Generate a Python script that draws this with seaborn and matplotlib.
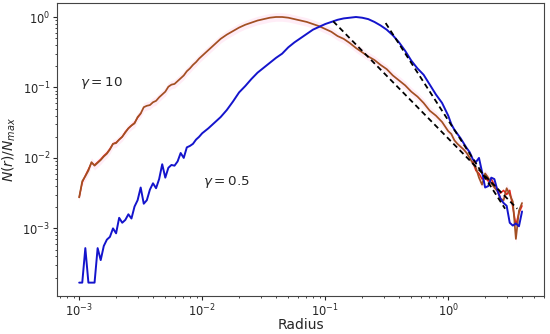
import numpy as np
import pandas as pd
import seaborn as sns
import matplotlib
matplotlib.use("Agg")
import matplotlib.pyplot as plt

# log10(radius) grid
log_r_low = [-3.000, -2.975, -2.950, -2.925, -2.900, -2.875, -2.850, -2.825, -2.800, -2.775,
             -2.750, -2.725, -2.700, -2.675, -2.650, -2.625, -2.600, -2.575, -2.550, -2.525,
             -2.500, -2.475, -2.450, -2.425, -2.400, -2.375, -2.350, -2.325, -2.300, -2.275,
             -2.250, -2.225, -2.200, -2.175, -2.150, -2.125, -2.100, -2.075, -2.050, -2.025,
             -2.000]
log_r_mid = [-1.95, -1.90, -1.85, -1.80, -1.75, -1.70, -1.65, -1.60, -1.55, -1.50,
             -1.45, -1.40, -1.35, -1.30, -1.25, -1.20, -1.15, -1.10, -1.05, -1.00,
             -0.95, -0.90, -0.85, -0.80, -0.75, -0.70, -0.65, -0.60, -0.55, -0.50,
             -0.45, -0.40, -0.35, -0.30, -0.25, -0.20, -0.15, -0.10, -0.05, 0.00]
log_r_tail = [0.025, 0.050, 0.075, 0.100, 0.125, 0.150, 0.175, 0.200, 0.225, 0.250,
              0.275, 0.300, 0.325, 0.350, 0.375, 0.400, 0.425, 0.450, 0.475, 0.500,
              0.525, 0.550, 0.575, 0.600]

# gamma = 0.5 (blue), log10 N/Nmax
blue_low = [-3.77, -3.77, -3.28, -3.77, -3.77, -3.77, -3.28, -3.45, -3.25, -3.16,
            -3.12, -3.00, -3.07, -2.85, -2.92, -2.88, -2.80, -2.86, -2.69, -2.60,
            -2.42, -2.65, -2.60, -2.45, -2.36, -2.43, -2.30, -2.09, -2.28, -2.14,
            -2.10, -2.11, -2.05, -1.93, -2.00, -1.85, -1.83, -1.80, -1.74, -1.70,
            -1.65]
blue_mid = [-1.58, -1.50, -1.42, -1.32, -1.20, -1.07, -0.98, -0.88, -0.79, -0.72,
            -0.65, -0.58, -0.52, -0.43, -0.36, -0.30, -0.24, -0.18, -0.14, -0.10,
            -0.07, -0.04, -0.02, -0.01, 0.00, -0.01, -0.03, -0.07, -0.12, -0.18,
            -0.26, -0.36, -0.48, -0.62, -0.73, -0.82, -0.96, -1.10, -1.22, -1.40]
blue_tail = [-1.52, -1.60, -1.66, -1.72, -1.79, -1.86, -1.92, -2.02, -2.06, -2.00,
             -2.20, -2.42, -2.40, -2.28, -2.30, -2.46, -2.58, -2.64, -2.68, -2.92,
             -2.96, -2.93, -2.97, -2.76]

# gamma = 10 (brown)
brown_low = [-2.56, -2.33, -2.26, -2.18, -2.06, -2.11, -2.07, -2.03, -1.98, -1.94,
             -1.88, -1.80, -1.79, -1.74, -1.70, -1.64, -1.58, -1.54, -1.51, -1.42,
             -1.37, -1.28, -1.26, -1.25, -1.21, -1.19, -1.14, -1.10, -1.06, -0.99,
             -0.96, -0.95, -0.91, -0.87, -0.83, -0.77, -0.73, -0.68, -0.64, -0.59,
             -0.55]
brown_mid = [-0.47, -0.39, -0.31, -0.25, -0.20, -0.15, -0.11, -0.08, -0.05, -0.03,
             -0.01, 0.00, 0.00, -0.01, -0.03, -0.05, -0.07, -0.10, -0.13, -0.17,
             -0.21, -0.27, -0.31, -0.37, -0.44, -0.50, -0.56, -0.61, -0.68, -0.74,
             -0.83, -0.90, -0.97, -1.06, -1.13, -1.22, -1.33, -1.40, -1.49, -1.62]
brown_tail = [-1.66, -1.75, -1.80, -1.84, -1.88, -1.93, -2.00, -2.08, -2.14, -2.28,
              -2.38, -2.22, -2.28, -2.36, -2.42, -2.47, -2.58, -2.60, -2.43, -2.52,
              -2.62, -3.15, -2.75, -2.64]

# second (red) curve, only visible at the ends
red_low_r = log_r_low[:21]
red_low = [-2.56, -2.35, -2.25, -2.16, -2.07, -2.10, -2.06, -2.02, -1.97, -1.93,
           -1.87, -1.80, -1.78, -1.74, -1.70, -1.63, -1.58, -1.54, -1.50, -1.43,
           -1.37]
red_tail_r = log_r_tail[7:]
red_tail = [-2.05, -2.18, -2.22, -2.30, -2.28, -2.33, -2.30, -2.38, -2.44, -2.50,
            -2.46, -2.52, -2.46, -2.70, -2.95, -2.78, -2.68]

# power-law fits (dashed)
fit_a_r = [0.116, 3.64]
fit_a_y = [0.87, 0.0019]
fit_b_r = [0.31, 2.9]
fit_b_y = [0.82, 0.0019]

log_r = np.array(log_r_low + log_r_mid + log_r_tail)
df = pd.DataFrame({
    "radius": 10 ** log_r,
    "blue": 10 ** np.array(blue_low + blue_mid + blue_tail),
    "brown": 10 ** np.array(brown_low + brown_mid + brown_tail),
})

sns.set_style("ticks")
plt.rcParams["font.family"] = ["DejaVu Sans"]
plt.rcParams.update({
    "xtick.major.size": 2.8, "ytick.major.size": 2.8,
    "xtick.minor.size": 1.7, "ytick.minor.size": 1.7,
    "xtick.major.pad": 2.0, "ytick.major.pad": 2.0,
    "xtick.minor.pad": 2.0, "ytick.minor.pad": 2.0,
    "axes.edgecolor": "#444444",
})

fig = plt.figure(figsize=(5.5, 3.34), dpi=100)
ax = fig.add_axes([0.1036, 0.114, 0.8854, 0.877])

# faint pink halo around the gamma=10 curve
ax.fill_between(df["radius"], df["brown"] * 0.87, df["brown"] * 1.15,
                color="#ffdcf0", alpha=0.5, lw=0)

sns.lineplot(x=10 ** np.array(red_low_r), y=10 ** np.array(red_low), ax=ax,
             color="#e8201a", lw=1.0, sort=False)
sns.lineplot(x=10 ** np.array(red_tail_r), y=10 ** np.array(red_tail), ax=ax,
             color="#e8201a", lw=1.1, sort=False)
sns.lineplot(data=df, x="radius", y="brown", ax=ax, color="#a24f22", lw=1.25, sort=False)
sns.lineplot(data=df, x="radius", y="blue", ax=ax, color="#1414cc", lw=1.4, sort=False)
sns.lineplot(x=fit_a_r, y=fit_a_y, ax=ax, color="black", lw=1.3)
sns.lineplot(x=fit_b_r, y=fit_b_y, ax=ax, color="black", lw=1.3)
for ln in ax.lines[-2:]:
    ln.set_linestyle((0, (3, 2)))

ax.set_xscale("log")
ax.set_yscale("log")
ax.set_xlim(6.6e-4, 6.0)
ax.set_ylim(1.1e-4, 1.58)

ax.text(1.02e-3, 0.116, r"$\gamma = 10$", fontsize=9.7, ha="left", va="center")
ax.text(1.02e-2, 0.0046, r"$\gamma = 0.5$", fontsize=9.7, ha="left", va="center")

ax.set_xlabel("Radius", fontsize=10)
ax.set_ylabel(r"$N(r)/N_{max}$", fontsize=10)
ax.xaxis.set_label_coords(0.5, -0.075)
ax.yaxis.set_label_coords(-0.080, 0.5)
ax.tick_params(labelsize=8.3)

fig.savefig("out.png", dpi=100)
